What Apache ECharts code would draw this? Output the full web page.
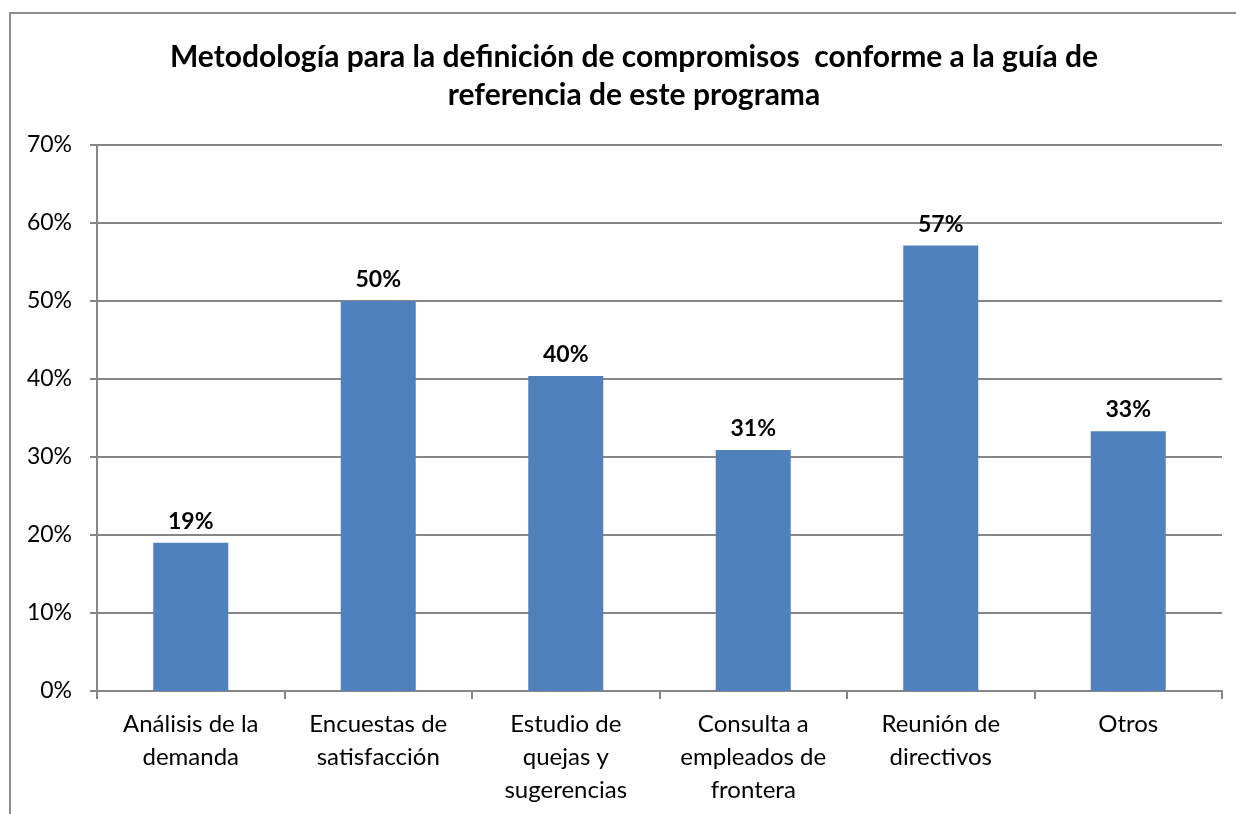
<!DOCTYPE html>
<html>
<head>
<meta charset="utf-8">
<script src="https://cdn.jsdelivr.net/npm/echarts@6/dist/echarts.min.js"></script>
<style>
  html, body { margin: 0; padding: 0; background: #fff; }
  #frame {
    position: absolute; left: 9px; top: 12px;
    width: 1240px; height: 820px;
    border: 2px solid #8c8c8c; box-sizing: border-box;
  }
  #chart { position: absolute; left: 0; top: 0; width: 1236px; height: 814px; }
</style>
</head>
<body>
<div id="frame"></div>
<div id="chart"></div>
<script>
const titleText = 'Metodología para la definición de compromisos  conforme a la guía de\nreferencia de este programa'
const categories = [
  'Análisis de la\ndemanda',
  'Encuestas de\nsatisfacción',
  'Estudio de\nquejas y\nsugerencias',
  'Consulta a\nempleados de\nfrontera',
  'Reunión de\ndirectivos',
  'Otros'
]
const values = [0.19, 0.50, 0.404, 0.309, 0.571, 0.333]
const yTicks = { min: 0, max: 0.7, interval: 0.1 }

const font = 'Lato, "Open Sans", "Noto Sans", sans-serif'
const chart = echarts.init(document.getElementById('chart'))
chart.setOption({
  animation: false,
  textStyle: { fontFamily: font },
  title: {
    text: titleText,
    left: 629,
    textAlign: 'center',
    top: 33,
    textStyle: { fontFamily: font, fontSize: 30, fontWeight: 'bold', color: '#000', lineHeight: 38 }
  },
  grid: { left: 97, right: 14, top: 145, bottom: 123, containLabel: false },
  xAxis: {
    type: 'category',
    data: categories,
    axisLine: { lineStyle: { color: '#868686', width: 2 } },
    axisTick: { show: true, length: 8, lineStyle: { color: '#868686', width: 2 } },
    axisLabel: {
      interval: 0,
      margin: 17,
      color: '#000',
      fontSize: 24,
      lineHeight: 33,
      fontFamily: font
    }
  },
  yAxis: {
    type: 'value',
    min: yTicks.min,
    max: yTicks.max,
    interval: yTicks.interval,
    axisLine: { show: true, lineStyle: { color: '#868686', width: 2 } },
    axisTick: { show: true, length: 7, lineStyle: { color: '#868686', width: 2 } },
    splitLine: { lineStyle: { color: '#868686', width: 2 } },
    axisLabel: {
      margin: 25,
      color: '#000',
      fontSize: 23,
      fontFamily: font,
      formatter: v => Math.round(v * 100) + '%'
    }
  },
  series: [{
    type: 'bar',
    data: values,
    barWidth: 75,
    itemStyle: { color: '#4F81BD' },
    label: {
      show: true,
      position: 'top',
      distance: 10,
      color: '#000',
      fontSize: 23,
      fontWeight: 'bold',
      fontFamily: font,
      formatter: p => Math.round(p.value * 100) + '%'
    }
  }]
})
</script>
</body>
</html>
